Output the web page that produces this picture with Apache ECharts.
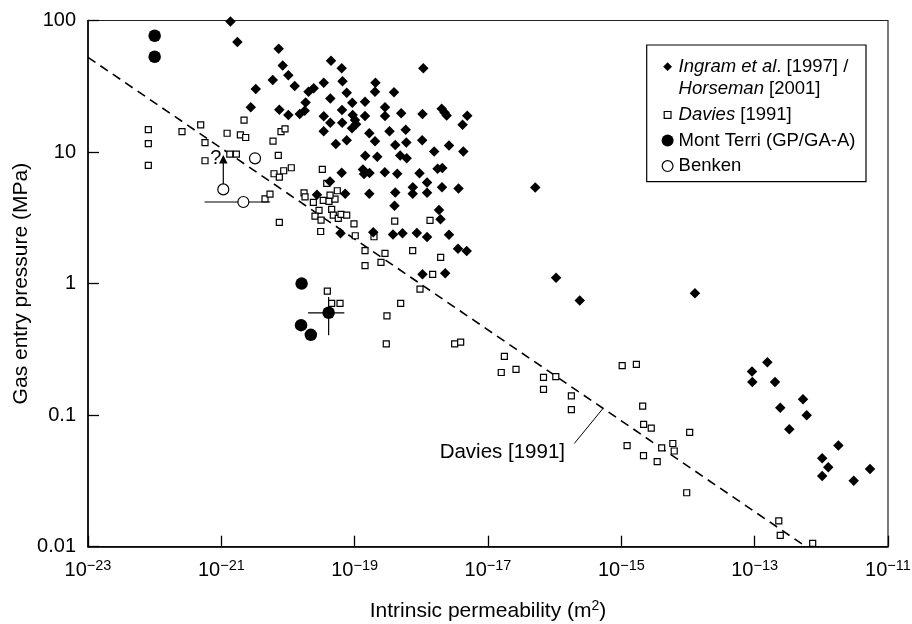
<!DOCTYPE html>
<html><head><meta charset="utf-8">
<script src="https://cdn.jsdelivr.net/npm/echarts@6/dist/echarts.min.js"></script>
<style>html,body{margin:0;padding:0;background:#fff}#c{width:912px;height:624px}</style>
</head><body><div id="c"></div>
<script>
const FONT = '"Liberation Sans", Arial, Helvetica, sans-serif';

// ---------------- data ----------------
const xTickValues = [1e-23, 1e-21, 1e-19, 1e-17, 1e-15, 1e-13, 1e-11];
const xTickExp = ['\u221223', '\u221221', '\u221219', '\u221217', '\u221215', '\u221213', '\u221211'];
const yTickValues = [0.01, 0.1, 1, 10, 100];
const yTickLabels = ['0.01', '0.1', '1', '10', '100'];

// Ingram et al. [1997] / Horseman [2001]
const ingramK = [1.37e-21,1.74e-21,7.25e-21,8.33e-21,1.01e-20,5.90e-21,1.26e-20,3.28e-21,2.76e-21,7.41e-21,
  1.01e-20,1.50e-20,1.78e-20,1.84e-20,2.03e-20,2.43e-20,3.44e-20,4.42e-20,6.39e-20,6.57e-20,
  7.60e-20,4.31e-20,9.21e-20,6.46e-20,9.34e-20,1.01e-19,1.05e-19,9.12e-20,3.44e-20,4.31e-20,
  3.43e-20,6.50e-20,7.60e-20,5.21e-20,1.43e-19,1.43e-19,2.05e-19,2.02e-19,3.89e-19,2.85e-19,
  2.85e-19,4.99e-19,1.07e-18,1.04e-18,2.02e-18,2.23e-18,2.40e-18,4.88e-18,4.15e-18,1.66e-19,
  2.02e-19,3.33e-19,5.83e-19,4.06e-19,5.95e-19,1.03e-18,2.60e-18,1.44e-19,2.18e-19,4.82e-19,
  6.03e-19,1.56e-18,4.26e-18,1.33e-19,1.38e-19,1.67e-19,2.83e-19,4.35e-19,9.39e-19,1.75e-18,
  2.06e-18,6.39e-20,4.27e-20,2.72e-20,7.21e-20,1.66e-19,4.06e-19,7.45e-19,7.42e-19,1.22e-18,
  1.22e-18,2.04e-18,3.61e-18,3.96e-19,1.84e-18,1.94e-18,2.60e-18,3.55e-18,4.79e-18,6.13e-20,
  1.90e-19,3.76e-19,5.22e-19,8.55e-19,1.22e-18,1.04e-18,2.28e-18,5.11e-17,1.05e-16,2.38e-16,
  1.27e-14,1.55e-13,9.12e-14,9.22e-14,2.02e-13,5.31e-13,2.42e-13,6.03e-13,3.31e-13,1.80e-12,
  1.03e-12,1.27e-12,1.03e-12,5.37e-12,3.06e-12];
const ingramP = [98.3,68.6,61.0,45.5,38.3,35.3,31.8,30.1,21.9,21.0,
  19.1,19.5,20.6,23.8,28.7,30.5,33.7,49.4,43.4,34.5,
  28.2,25.5,23.7,20.9,19.1,17.5,16.3,15.2,18.7,16.7,
  14.4,16.7,12.3,11.5,24.1,18.8,33.6,28.7,28.5,21.9,
  18.8,19.7,43.4,19.5,21.3,20.0,19.0,18.9,16.1,13.9,
  12.1,14.4,14.8,11.3,11.8,12.3,11.2,9.36,9.21,9.40,
  8.97,10.1,10.1,7.36,6.80,6.92,7.01,6.83,6.90,7.45,
  7.55,6.96,5.97,4.74,4.81,4.83,4.92,5.39,4.83,5.88,
  4.90,5.40,5.29,3.90,3.62,3.09,2.35,1.84,1.77,2.41,
  2.46,2.36,2.41,2.42,2.26,1.18,1.20,5.37,1.11,0.745,
  0.844,0.252,0.215,0.179,0.179,0.132,0.114,0.100,0.0782,0.0589,
  0.0471,0.0402,0.0344,0.0390,0.0317];

// Davies [1991]
const daviesK = [8.03e-23,8.03e-23,8.03e-23,2.57e-22,4.90e-22,5.69e-22,5.69e-22,1.22e-21,1.34e-21,1.68e-21,
  1.93e-21,2.32e-21,2.19e-21,5.96e-21,7.15e-21,7.85e-21,9.02e-21,6.17e-21,7.41e-21,8.62e-21,
  1.12e-20,7.41e-21,4.52e-21,5.37e-21,1.74e-20,1.80e-20,3.27e-20,3.81e-20,2.40e-20,2.92e-20,
  3.38e-20,4.12e-20,5.07e-20,5.49e-20,4.27e-20,2.54e-20,3.13e-20,4.52e-20,4.78e-20,5.68e-20,
  6.24e-20,7.60e-20,3.09e-20,9.77e-20,1.02e-19,1.95e-19,1.43e-19,1.43e-19,2.48e-19,2.85e-19,
  3.99e-19,7.42e-19,1.35e-18,1.95e-18,9.55e-19,1.48e-18,3.89e-20,4.52e-20,6.03e-20,4.90e-19,
  3.05e-19,2.98e-19,3.16e-18,3.89e-18,1.76e-17,1.58e-17,2.63e-17,6.80e-17,1.04e-16,6.80e-17,
  1.78e-16,1.78e-16,1.03e-15,1.68e-15,2.09e-15,2.16e-15,2.81e-15,1.22e-15,2.15e-15,3.45e-15,
  4.03e-15,5.92e-15,6.21e-15,1.06e-14,9.56e-15,2.30e-13,2.42e-13,7.42e-13];
const daviesP = [14.8,11.6,7.92,14.3,16.1,11.8,8.59,13.9,9.65,9.65,
  13.5,12.9,17.5,12.1,9.44,14.3,15.0,6.84,6.45,7.21,
  7.60,2.92,4.41,4.79,4.90,4.57,7.39,5.78,4.14,3.60,
  4.29,4.22,4.39,5.08,4.71,3.26,3.04,3.67,3.32,3.13,
  3.36,3.32,2.49,2.84,2.31,2.27,1.78,1.37,1.45,1.70,
  2.99,1.78,3.02,1.58,0.908,1.175,0.877,0.707,0.707,0.707,
  0.569,0.348,0.348,0.359,0.280,0.211,0.223,0.194,0.196,0.157,
  0.140,0.110,0.238,0.243,0.117,0.085,0.0796,0.0586,0.0492,0.0444,
  0.0564,0.0609,0.0534,0.0739,0.0257,0.0157,0.0122,0.0106];

// Mont Terri (GP/GA-A)
const montK = [1.0e-22, 1.0e-22, 1.6e-20, 1.57e-20, 2.2e-20, 4.07e-20];
const montP = [76.6, 53.0, 1.0, 0.483, 0.408, 0.60];
const montErrK = [2.0e-20, 7.0e-20];   // horizontal bar of last point
const montErrP = [0.79, 0.405];        // vertical bar of last point

// Benken
const benkenK = [3.2e-21, 1.07e-21, 2.14e-21];
const benkenP = [8.96, 5.2, 4.17];
const benkenErrK = [5.6e-22, 5.4e-21]; // horizontal bar of third point
const benkenArrowP = [5.2, 8.8];       // arrow from second point upward

// Davies [1991] correlation line (dashed) end points
const davLineK = [1e-23, 5.89e-13];
const davLineP = [52.5, 0.01];
const leaderK = [1.97e-16, 5.25e-16];
const leaderP = [0.0609, 0.1117];

// text annotations
const annotTexts = ['Davies [1991]', '?'];
const annotK = [1.53e-16, 8.26e-22];
const annotP = [0.0523, 8.88];

// legend names / rich labels
const seriesNames = ['Ingram et al. [1997] / Horseman [2001]', 'Davies [1991]', 'Mont Terri (GP/GA-A)', 'Benken'];
const legendRich = [
  '{it|Ingram et al}{n|. [1997] /}\n{it|Horseman}{n| [2001]}',
  '{it|Davies}{n| [1991]}',
  '{n|Mont Terri (GP/GA-A)}',
  '{n|Benken}'
];

// ---------------- build ----------------
const zip = (a, b) => a.map((v, i) => [v, b[i]]);
const lineSeg = (data, extra) => Object.assign({
  type: 'line', data: data, symbol: 'none', silent: true, animation: false,
  lineStyle: { color: '#000', width: 1.2, opacity: 1 }, z: 2
}, extra || {});

const mi = montK.length - 1;
const bi = 2;

const series = [
  lineSeg(zip(davLineK, davLineP), { lineStyle: { color: '#000', width: 1.6, type: [9, 6], opacity: 1 }, z: 1 }),
  lineSeg(zip(leaderK, leaderP), { z: 1, lineStyle: { color: '#000', width: 1, opacity: 1 } }),
  lineSeg([[montErrK[0], montP[mi]], [montErrK[1], montP[mi]]]),
  lineSeg([[montK[mi], montErrP[0]], [montK[mi], montErrP[1]]]),
  lineSeg([[benkenErrK[0], benkenP[bi]], [benkenErrK[1], benkenP[bi]]]),
  lineSeg([[benkenK[1], benkenArrowP[0]], [benkenK[1], benkenArrowP[1]]]),
  {
    name: seriesNames[1], type: 'scatter', data: zip(daviesK, daviesP), symbol: 'rect', symbolSize: 6,
    itemStyle: { color: '#fff', borderColor: '#000', borderWidth: 1.2, opacity: 1 }, z: 3, clip: false, silent: true
  },
  {
    name: seriesNames[0], type: 'scatter', data: zip(ingramK, ingramP), symbol: 'diamond', symbolSize: 10.5,
    itemStyle: { color: '#000', opacity: 1 }, z: 3, clip: false, silent: true
  },
  {
    name: seriesNames[2], type: 'scatter', data: zip(montK, montP), symbol: 'circle', symbolSize: 12.5,
    itemStyle: { color: '#000', opacity: 1 }, z: 4, clip: false, silent: true
  },
  {
    name: seriesNames[3], type: 'scatter', data: zip(benkenK, benkenP), symbol: 'circle', symbolSize: 11,
    itemStyle: { color: '#fff', borderColor: '#000', borderWidth: 1.2, opacity: 1 }, z: 4, clip: false, silent: true
  },
  {
    type: 'scatter', data: [[benkenK[1], benkenArrowP[1]]], symbol: 'triangle', symbolSize: 8.5,
    itemStyle: { color: '#000', opacity: 1 }, z: 4, clip: false, silent: true
  },
  {
    type: 'scatter', symbolSize: 0, z: 5, clip: false, silent: true,
    itemStyle: { opacity: 1 },
    data: annotTexts.map((t, i) => ({
      value: [annotK[i], annotP[i]],
      label: {
        show: true, formatter: t, position: i === 0 ? 'left' : 'inside', distance: 2,
        fontFamily: FONT, fontSize: i === 0 ? 20.5 : 20, color: '#000', opacity: 1
      }
    }))
  }
];

const richBase = { fontFamily: FONT, fontSize: 18.5, color: '#000', lineHeight: 22.6 };
const option = {
  animation: false,
  backgroundColor: '#fff',
  grid: { left: 88, right: 24, top: 20.5, bottom: 77.3, show: true, borderColor: '#222', borderWidth: 1.2,
    backgroundColor: 'transparent', containLabel: false, outerBoundsMode: 'none' },
  xAxis: {
    type: 'log', logBase: 10, min: 1e-23, max: 1e-11,
    name: 'Intrinsic permeability (m{sup|2})', nameLocation: 'middle', nameGap: 52, nameMoveOverlap: false,
    nameTextStyle: { fontFamily: FONT, fontSize: 21, color: '#000', lineHeight: 26,
      rich: { sup: { fontFamily: FONT, fontSize: 14, color: '#000', lineHeight: 14, verticalAlign: 'top' } } },
    axisLine: { show: true, onZero: false, lineStyle: { color: '#000', width: 1.5 } },
    axisTick: { show: true, inside: true, length: 11, customValues: xTickValues, lineStyle: { color: '#000', width: 1.3 } },
    axisLabel: {
      customValues: xTickValues, margin: 12, color: '#000',
      formatter: function (v) {
        let idx = 0, best = Infinity;
        xTickValues.forEach((t, i) => { const d = Math.abs(Math.log10(t) - Math.log10(v)); if (d < best) { best = d; idx = i; } });
        return '{b|10}{s|' + xTickExp[idx] + '}';
      },
      rich: {
        b: { fontFamily: FONT, fontSize: 20, color: '#000', lineHeight: 24 },
        s: { fontFamily: FONT, fontSize: 14.5, color: '#000', lineHeight: 12, verticalAlign: 'top' }
      }
    },
    splitLine: { show: false }, minorTick: { show: false }
  },
  yAxis: {
    type: 'log', logBase: 10, min: 0.01, max: 100,
    name: 'Gas entry pressure (MPa)', nameLocation: 'middle', nameGap: 55, nameMoveOverlap: false,
    nameTextStyle: { fontFamily: FONT, fontSize: 21, color: '#000', lineHeight: 24 },
    axisLine: { show: true, onZero: false, lineStyle: { color: '#000', width: 1.5 } },
    axisTick: { show: true, inside: true, length: 11, customValues: yTickValues, lineStyle: { color: '#000', width: 1.3 } },
    axisLabel: {
      customValues: yTickValues, margin: 12, color: '#000', fontFamily: FONT, fontSize: 20,
      formatter: function (v) {
        let idx = 0, best = Infinity;
        yTickValues.forEach((t, i) => { const d = Math.abs(Math.log10(t) - Math.log10(v)); if (d < best) { best = d; idx = i; } });
        return yTickLabels[idx];
      }
    },
    splitLine: { show: false }, minorTick: { show: false }
  },
  legend: {
    orient: 'vertical', left: 661, top: 32.8, padding: 0, itemGap: 3,
    itemWidth: 12, itemHeight: 12, selectedMode: false, z: 6,
    textStyle: Object.assign({}, richBase, {
      rich: { n: Object.assign({}, richBase), it: Object.assign({ fontStyle: 'italic' }, richBase) }
    }),
    formatter: function (name) { return legendRich[seriesNames.indexOf(name)]; },
    data: [
      { name: seriesNames[0], icon: 'path://M6,1.6L10.4,6L6,10.4L1.6,6Z M0,0 M12,12',
        itemStyle: { color: '#000', borderWidth: 0, opacity: 1 }, textStyle: { padding: [22.6, 0, 0, 0] } },
      { name: seriesNames[1], icon: 'path://M2.6,2.6L9.4,2.6L9.4,9.4L2.6,9.4Z M0,0 M12,12',
        itemStyle: { color: '#fff', borderColor: '#000', borderWidth: 1.2, opacity: 1 } },
      { name: seriesNames[2], icon: 'circle', itemStyle: { color: '#000', borderWidth: 0, opacity: 1 } },
      { name: seriesNames[3], icon: 'path://M6,0.6A5.4,5.4,0,1,1,5.99,0.6Z M0,0 M12,12',
        itemStyle: { color: '#fff', borderColor: '#000', borderWidth: 1.2, opacity: 1 } }
    ]
  },
  graphic: [{
    type: 'rect', z: 5, silent: true,
    shape: { x: 646.7, y: 45, width: 219.3, height: 136.7 },
    style: { fill: '#fff', stroke: '#000', lineWidth: 1.2 }
  }],
  series: series
};

const chart = echarts.init(document.getElementById('c'), null, { renderer: 'canvas' });
chart.setOption(option);
</script>
</body></html>
